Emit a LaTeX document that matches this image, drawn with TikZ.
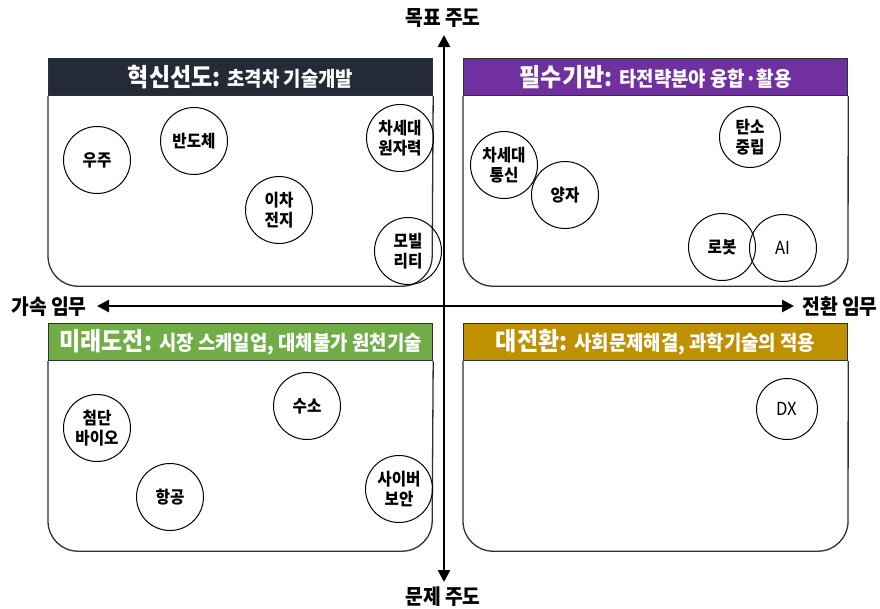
\documentclass[tikz,border=0pt]{standalone}
\usepackage{fontspec}
\setmainfont{Noto Sans CJK KR}[FakeStretch=0.92]
\usetikzlibrary{arrows.meta}
\definecolor{boxline}{HTML}{2B303A}
\definecolor{hnavy}{HTML}{242A36}
\definecolor{hpurple}{HTML}{7030A0}
\definecolor{hgreen}{HTML}{70AD47}
\definecolor{hgold}{HTML}{BF9000}
\newcommand{\ttl}{\bfseries\fontsize{25}{28}\selectfont}
\newcommand{\sttl}{\bfseries\fontsize{20.5}{24}\selectfont}
\begin{document}
\begin{tikzpicture}[x=1pt,y=-1pt,
  hdr/.style={draw=boxline, line width=1.2pt, text=white, anchor=north west,
    minimum width=384pt, minimum height=37pt, inner sep=0pt},
  body/.style={draw=boxline, line width=1.3pt, rounded corners=30pt},
  tech/.style={circle, draw=black, line width=1pt, minimum size=67pt, inner sep=0pt,
    align=center, font=\bfseries\fontsize{17}{20.5}\selectfont},
  techs/.style={tech, minimum size=61pt},
  lbl/.style={font=\bfseries\fontsize{21}{24}\selectfont, inner sep=0pt},
  axis/.style={line width=2.6pt, {Triangle[length=12pt,width=12pt]}-{Triangle[length=12pt,width=12pt]}}
]
\useasboundingbox (0,0) rectangle (880,608);

% quadrant boxes
\node[hdr, fill=hnavy] (h1) at (48,58) {\ttl 혁신선도: \sttl 초격차 기술개발};
\draw[body] (h1.south west) -- ++(0,190) -- ++(384,0) -- (h1.south east);
\node[hdr, fill=hpurple] (h2) at (463,58) {\ttl 필수기반: \sttl 타전략분야 융합·활용};
\draw[body] (h2.south west) -- ++(0,190) -- ++(385,0) -- (h2.south east);
\node[hdr, fill=hgreen] (h3) at (48,323) {\ttl 미래도전: \sttl 시장 스케일업, 대체불가 원천기술};
\draw[body] (h3.south west) -- ++(0,190) -- ++(384,0) -- (h3.south east);
\node[hdr, fill=hgold] (h4) at (463,323) {\ttl 대전환: \sttl 사회문제해결, 과학기술의 적용};
\draw[body] (h4.south west) -- ++(0,190) -- ++(385,0) -- (h4.south east);

% axes
\coordinate (axL) at (97,306);
\coordinate (axR) at (794,306);
\coordinate (axT) at (444,35);
\coordinate (axB) at (444,582);
\draw[axis] (axL) -- (axR);
\draw[axis] (axT) -- (axB);
\node[lbl] (lt) at (443,18) {목표 주도};
\node[lbl] (lb) at (443,597) {문제 주도};
\node[lbl] (ll) at (49,307) {가속 임무};
\node[lbl] (lr) at (840,307) {전환 임무};

% technologies
\node[tech] (c1) at (97,160) {우주};
\node[tech] (c2) at (194,141) {반도체};
\node[tech] (c3) at (400,138) {차세대\\원자력};
\node[tech] (c4) at (279,210) {이차\\전지};
\node[tech] (c5) at (408,251) {모빌\\리티};
\node[tech] (c6) at (504,165) {차세대\\통신};
\node[tech] (c7) at (565,195) {양자};
\node[techs] (c8) at (750,137) {탄소\\중립};
\node[tech] (c9) at (722,247) {로봇};
\node[tech, font=\fontsize{18}{20}\selectfont] (c10) at (783,248) {AI};
\node[tech] (c11) at (97,428) {첨단\\바이오};
\node[tech] (c12) at (307,406) {수소};
\node[tech] (c13) at (170,497) {항공};
\node[tech] (c14) at (399,489) {사이버\\보안};
\node[techs, font=\fontsize{18}{20}\selectfont] (c15) at (787,409) {DX};
\end{tikzpicture}
\end{document}
